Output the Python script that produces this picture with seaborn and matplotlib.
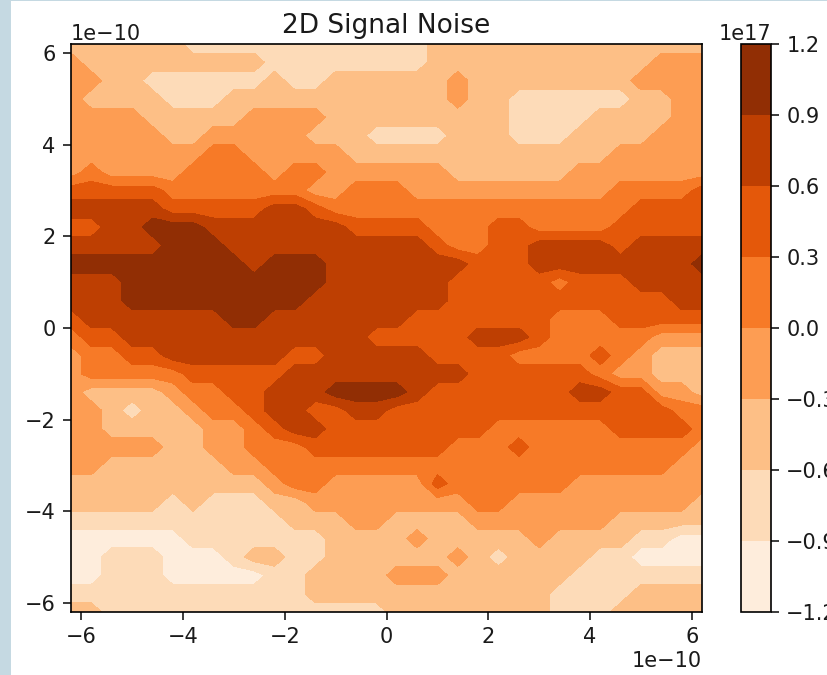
import numpy as np
import matplotlib
matplotlib.use("Agg")
import matplotlib.pyplot as plt
import matplotlib.patches as mpatches
import seaborn as sns

sns.set_style("ticks")
plt.rcParams.update({
    "font.family": ["DejaVu Sans"],
    "font.size": 15,
    "axes.linewidth": 1.2,
    "axes.edgecolor": "black",
    "text.color": "#1a1a1a",
    "xtick.color": "#1a1a1a",
    "ytick.color": "#1a1a1a",
    "xtick.labelsize": 15,
    "ytick.labelsize": 15,
    "xtick.major.size": 5.5,
    "ytick.major.size": 5.5,
    "xtick.major.width": 1.2,
    "ytick.major.width": 1.2,
    "xtick.major.pad": 5.5,
    "ytick.major.pad": 5.5,
})

BAND_EDGE = "#c5d9e2"

# grid positions, in units of 1e-10
x_pos = [-6.2, -5.8, -5.4, -5.0, -4.6, -4.2, -3.8, -3.4, -3.0, -2.6, -2.2, -1.8, -1.4, -1.0, -0.6, -0.2,
         0.2, 0.6, 1.0, 1.4, 1.8, 2.2, 2.6, 3.0, 3.4, 3.8, 4.2, 4.6, 5.0, 5.4, 5.8, 6.2]
y_pos = [6.2, 5.8, 5.4, 5.0, 4.6, 4.2, 3.8, 3.4, 3.0, 2.6, 2.2, 1.8, 1.4, 1.0, 0.6, 0.2,
         -0.2, -0.6, -1.0, -1.4, -1.8, -2.2, -2.6, -3.0, -3.4, -3.8, -4.2, -4.6, -5.0, -5.4, -5.8, -6.2]

# contour levels and the middle of each band, in units of 1e17
levels = [-1.2, -0.9, -0.6, -0.3, 0.0, 0.3, 0.6, 0.9, 1.2]
band_mid = [-1.05, -0.75, -0.45, -0.15, 0.15, 0.45, 0.75, 1.05]

# band at every grid point, top row first
bands = [
    [2,2,2,2,2,2,1,1,1,1,1,1,1,1,1,1,1,1,2,2,2,2,2,2,2,2,2,2,2,2,2,2],
    [3,2,2,2,2,2,2,2,2,2,1,1,1,1,1,1,1,1,2,2,2,2,2,2,2,2,2,2,2,3,3,3],
    [3,3,2,2,1,1,1,1,1,1,2,1,1,2,2,2,2,2,2,3,2,2,2,2,2,2,2,2,3,3,3,3],
    [3,2,2,2,2,1,1,1,2,2,2,2,2,2,2,2,2,2,2,3,2,2,1,1,1,1,1,1,2,2,3,3],
    [3,3,3,3,2,2,2,2,2,3,3,3,3,2,2,2,2,2,2,2,2,2,1,1,1,1,2,2,2,2,3,3],
    [3,3,3,3,3,2,2,3,3,3,3,3,2,2,2,1,1,1,1,2,2,2,1,1,1,2,2,2,2,3,3,3],
    [3,3,3,3,3,3,3,4,4,3,3,3,3,3,2,2,2,2,2,2,2,2,2,2,2,2,2,3,3,3,3,3],
    [3,4,3,3,3,3,4,4,4,4,3,4,4,3,3,3,3,3,3,2,2,2,2,2,2,3,3,3,3,3,3,3],
    [5,5,5,5,5,4,4,4,4,4,4,4,3,3,4,4,4,3,3,3,3,3,3,3,3,3,3,4,4,4,4,5],
    [6,6,6,6,6,5,5,5,5,5,6,6,5,4,4,4,4,4,4,4,4,4,4,4,4,4,4,4,5,5,5,5],
    [5,5,6,6,7,7,7,6,6,6,6,6,6,6,5,5,5,5,4,4,4,5,5,4,4,4,4,5,5,5,5,5],
    [6,6,6,6,6,7,7,7,6,6,6,6,6,6,6,6,6,6,5,4,4,5,5,6,6,6,6,5,6,6,6,6],
    [7,7,7,7,7,7,7,7,7,6,7,7,7,6,6,6,6,6,6,6,5,5,5,6,6,6,6,6,6,6,6,7],
    [6,6,6,7,7,7,7,7,7,7,7,7,7,6,6,6,6,6,6,5,5,5,5,5,4,5,5,5,6,6,6,6],
    [6,6,6,7,7,7,7,7,7,7,7,7,6,6,6,6,6,6,6,5,5,5,5,5,5,5,5,5,5,5,6,6],
    [5,6,6,6,6,6,6,6,7,7,6,6,6,6,6,6,6,5,5,5,5,5,5,5,4,4,4,5,5,5,5,5],
    [4,5,5,6,6,6,6,6,6,6,6,6,6,6,6,5,5,5,5,5,6,6,6,5,4,4,4,4,4,3,3,3],
    [3,4,4,5,5,6,6,6,6,6,6,5,5,6,6,6,6,6,5,5,5,5,4,4,4,4,5,4,3,2,2,2],
    [3,4,4,4,4,4,5,5,5,5,5,6,6,6,6,6,6,6,6,6,5,5,5,5,5,5,4,3,3,2,2,2],
    [3,2,2,2,2,3,4,4,5,5,6,6,6,7,7,7,7,6,5,5,5,5,5,5,5,6,6,5,5,3,3,2],
    [3,3,2,1,2,2,3,4,4,5,6,6,5,5,6,6,5,5,5,5,5,5,5,5,5,5,5,5,5,5,4,4],
    [3,3,2,2,2,2,2,3,3,4,5,6,6,5,5,5,5,5,5,5,5,4,4,4,4,4,4,5,5,5,5,4],
    [3,3,3,3,3,2,2,3,3,4,4,4,5,5,5,5,5,5,5,4,4,4,5,4,4,4,4,4,4,4,4,3],
    [3,3,2,2,2,2,2,2,3,3,4,4,4,4,4,4,4,4,4,4,4,4,4,4,4,4,4,4,4,4,3,3],
    [2,2,2,2,2,2,2,2,2,2,3,4,4,3,3,3,3,3,5,4,4,4,4,4,4,3,3,3,3,3,3,3],
    [2,2,2,2,2,1,2,1,1,1,2,2,3,3,3,3,3,3,3,3,4,4,3,3,3,3,3,3,3,3,3,2],
    [1,1,1,1,1,1,1,1,1,1,1,2,2,2,3,3,2,2,2,2,3,3,3,3,3,3,3,2,2,2,2,2],
    [0,0,0,0,0,0,1,1,1,1,1,1,1,2,2,2,2,3,2,2,2,2,2,3,2,2,2,2,1,1,0,0],
    [0,0,1,1,1,0,0,0,1,2,2,1,1,2,2,2,2,2,2,3,2,1,2,2,2,2,1,1,0,0,0,0],
    [0,0,1,1,1,0,0,0,0,0,1,1,2,2,2,2,3,3,3,2,2,2,2,2,2,1,1,1,1,1,1,1],
    [1,1,1,1,1,1,1,1,1,1,1,1,2,2,2,2,2,2,2,2,2,2,2,2,1,1,1,1,2,2,2,2],
    [2,2,1,1,1,1,1,1,1,1,1,1,1,1,1,1,2,2,2,2,2,2,2,2,1,1,1,2,2,2,2,2],
]

W, H = 828, 675


def px_rect(x0, y0, x1, y1):
    return [x0 / W, 1 - y1 / H, (x1 - x0) / W, (y1 - y0) / H]


x = np.array(x_pos) * 1e-10
y = np.array(y_pos) * 1e-10
signal = np.array(band_mid)[np.array(bands)] * 1e17

fig = plt.figure(figsize=(W / 100, H / 100), dpi=100, facecolor="white")

# pale strip down the left edge of the screenshot
fig.add_artist(mpatches.Rectangle((0, 0), 10.5 / W, 1, transform=fig.transFigure, color=BAND_EDGE, lw=0))
fig.add_artist(mpatches.Rectangle((0, 1 - 1 / H), 1, 1 / H, transform=fig.transFigure, color=BAND_EDGE, lw=0))

ax = fig.add_axes(px_rect(71, 44, 702, 612))
cax = fig.add_axes(px_rect(741, 44, 771, 612))

cmap = sns.color_palette("Oranges", as_cmap=True)
cf = ax.contourf(x, y, signal, levels=np.array(levels) * 1e17, cmap=cmap)
ax.set_title("2D Signal Noise", fontsize=19, pad=8)

cbar = fig.colorbar(cf, cax=cax)
cbar.outline.set_linewidth(1.2)

sns.despine(ax=ax, top=False, right=False)
fig.savefig("out.png", dpi=100)
